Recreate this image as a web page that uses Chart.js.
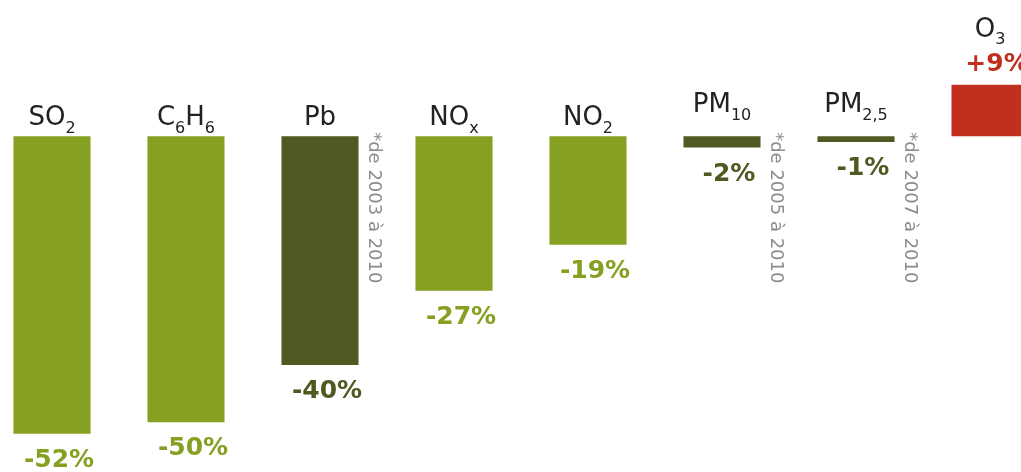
<!DOCTYPE html>
<html>
<head>
<meta charset="utf-8">
<script src="https://cdn.jsdelivr.net/npm/chart.js@4/dist/chart.umd.min.js"></script>
<style>
  html, body { margin: 0; padding: 0; background: #fff; overflow: hidden; }
  #wrap { position: absolute; left: -15px; top: 0; width: 1072px; height: 472px; }
</style>
</head>
<body>
<div id="wrap"><canvas id="chart"></canvas></div>
<script>
// polluants (le "_" marque l'indice), évolution en %
const categories = ['SO_2', 'C_6H_6', 'Pb', 'NO_x', 'NO_2', 'PM_10', 'PM_2,5', 'O_3'];
const values = [-52, -50, -40, -27, -19, -2, -1, 9];
const valueLabels = ['-52%', '-50%', '-40%', '-27%', '-19%', '-2%', '-1%', '+9%'];
const periodNotes = ['', '', '*de 2003 à 2010', '', '', '*de 2005 à 2010', '*de 2007 à 2010', ''];

const LIGHT = '#86a021';
const DARK = '#4e5a21';
const RED = '#c1301e';
const barColors = values.map((v, i) => v > 0 ? RED : (periodNotes[i] ? DARK : LIGHT));

const FONT = '"DejaVu Sans", Verdana, sans-serif';

// texte avec indices : 'C_6H_6' -> C, 6 (indice), H, 6 (indice)
function drawChem(ctx, text, cx, baseline, size) {
    const parts = text.split(/(_[^A-Z]+)/).filter(Boolean);
    const subSize = Math.round(size * 0.6);
    let total = 0;
    const widths = parts.map(p => {
        ctx.font = p[0] === '_' ? `${subSize}px ${FONT}` : `${size}px ${FONT}`;
        const w = ctx.measureText(p[0] === '_' ? p.slice(1) : p).width;
        total += w;
        return w;
    });
    let x = cx - total / 2;
    ctx.textAlign = 'left';
    ctx.textBaseline = 'alphabetic';
    parts.forEach((p, i) => {
        if (p[0] === '_') {
            ctx.font = `${subSize}px ${FONT}`;
            ctx.fillText(p.slice(1), x, baseline + size * 0.3);
        } else {
            ctx.font = `${size}px ${FONT}`;
            ctx.fillText(p, x, baseline);
        }
        x += widths[i];
    });
}

const labelPlugin = {
    id: 'labels',
    afterDatasetsDraw(chart) {
        const ctx = chart.ctx;
        const bars = chart.getDatasetMeta(0).data;
        ctx.save();
        bars.forEach((bar, i) => {
            const v = values[i];
            const top = Math.min(bar.y, bar.base);
            const bottom = Math.max(bar.y, bar.base);
            const right = bar.x + bar.width / 2;

            // nom du polluant
            ctx.fillStyle = '#222';
            let nameBase = top - 11;
            if (Math.abs(v) < 5) nameBase = top - 24;
            if (v > 0) nameBase = top - 48;
            drawChem(ctx, categories[i], bar.x, nameBase, 26);

            // valeur
            ctx.fillStyle = barColors[i];
            ctx.font = `bold 25px ${FONT}`;
            ctx.textAlign = 'center';
            ctx.textBaseline = 'alphabetic';
            if (v < 0) {
                ctx.fillText(valueLabels[i], bar.x + 7, bottom + 33);
            } else {
                ctx.fillText(valueLabels[i], bar.x + 7, top - 14);
            }

            // période (texte vertical)
            if (periodNotes[i]) {
                ctx.save();
                ctx.translate(right + 15, bar.base - 4);
                ctx.rotate(Math.PI / 2);
                ctx.fillStyle = '#8c8c8c';
                ctx.font = `18px ${FONT}`;
                ctx.textAlign = 'left';
                ctx.textBaseline = 'middle';
                ctx.fillText(periodNotes[i], 0, 0);
                ctx.restore();
            }
        });
        ctx.restore();
    }
};

new Chart(document.getElementById('chart'), {
    type: 'bar',
    data: {
        labels: categories.map(c => c.replace(/_/g, '')),
        datasets: [{
            data: values,
            backgroundColor: barColors,
            borderWidth: 0,
            barPercentage: 0.575,
            categoryPercentage: 1
        }]
    },
    options: {
        responsive: true,
        maintainAspectRatio: false,
        animation: false,
        layout: { padding: 0 },
        plugins: {
            legend: { display: false },
            tooltip: { enabled: false }
        },
        scales: {
            x: { display: false },
            y: { display: false, min: -58.7, max: 23.8 }
        }
    },
    plugins: [labelPlugin]
});
</script>
</body>
</html>
